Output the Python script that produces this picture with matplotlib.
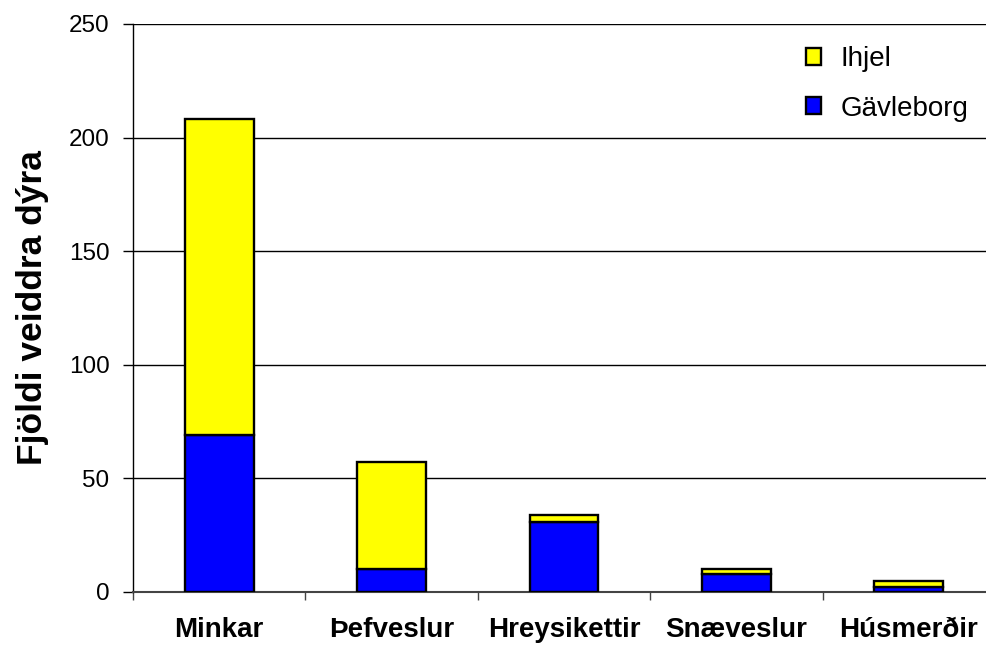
import matplotlib.pyplot as plt
import numpy as np

plt.rcParams['font.family'] = ['Liberation Sans', 'DejaVu Sans']

# gögn
flokkar = ['Minkar', 'Þefveslur', 'Hreysikettir', 'Snæveslur', 'Húsmerðir']
gavleborg = [69, 10, 31, 8, 2]
ihjel = [139, 47, 3, 2, 3]

fig = plt.figure(figsize=(9.86, 6.47), dpi=100)
ax = fig.add_axes([133 / 986, 55 / 647, 862 / 986, 568 / 647])

x = np.arange(len(flokkar))
b1 = ax.bar(x, gavleborg, width=0.4, color='#0000ff', edgecolor='black', linewidth=1.7, zorder=3)
b2 = ax.bar(x, ihjel, width=0.4, bottom=gavleborg, color='#ffff00', edgecolor='black', linewidth=1.7, zorder=3)

ax.set_xlim(-0.5, len(flokkar) - 0.5)
ax.set_ylim(0, 250)
ax.set_yticks(range(0, 251, 50))
ax.yaxis.grid(True, color='black', linewidth=1)
ax.set_axisbelow(True)

ax.set_xticks(x)
ax.set_xticklabels(flokkar, fontsize=20, fontweight='bold')
ax.tick_params(axis='x', length=0, pad=18)
ax.set_xticks(np.arange(-0.5, len(flokkar)), minor=True)
ax.tick_params(axis='x', which='minor', length=6, width=1, color='#444444')
ax.tick_params(axis='y', labelsize=17.5, length=7, width=1, pad=10)

for s in ['top', 'right']:
    ax.spines[s].set_visible(False)
ax.spines['left'].set_linewidth(1)
ax.spines['bottom'].set_color('#444444')
ax.spines['bottom'].set_linewidth(1.5)

ax.set_ylabel('Fjöldi veiddra dýra', fontsize=25.5, fontweight='bold', labelpad=14)

ax.legend([b2, b1], ['Ihjel', 'Gävleborg'], frameon=False, fontsize=20,
          loc='upper left', bbox_to_anchor=(806 / 986, 1 - 46 / 647),
          bbox_transform=fig.transFigure, handlelength=0.55, handleheight=0.55,
          handletextpad=0.7, labelspacing=0.85, borderpad=0, borderaxespad=0)

fig.savefig('out.png', dpi=100)
